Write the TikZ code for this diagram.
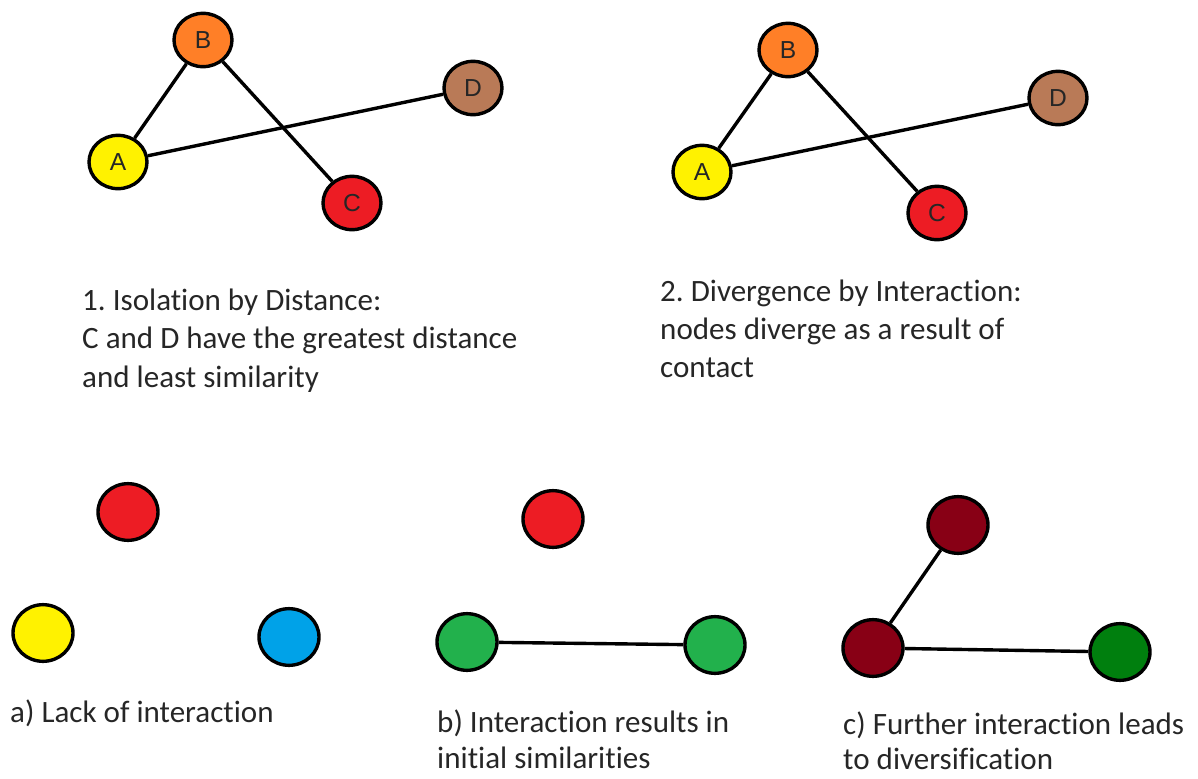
\documentclass[tikz,border=0pt]{standalone}
\usepackage{fontspec}
\setmainfont{Carlito}[Ligatures={NoCommon,NoRare,NoDiscretionary}]
\newfontfamily\nodefont{Liberation Sans}
\usetikzlibrary{shapes.geometric}
\frenchspacing
\definecolor{cyel}{HTML}{FFF200}
\definecolor{corange}{HTML}{FF7F27}
\definecolor{cbrown}{HTML}{B97A57}
\definecolor{cred}{HTML}{ED1C24}
\definecolor{cblue}{HTML}{00A2E8}
\definecolor{cgreen}{HTML}{22B14C}
\definecolor{cdred}{HTML}{880015}
\definecolor{cdgreen}{HTML}{007F0E}
\definecolor{ctext}{HTML}{262626}
\begin{document}
\begin{tikzpicture}[x=0.03cm,y=-0.03cm,
  gnode/.style={ellipse,draw=black,line width=2.9pt,minimum width=1.74cm,minimum height=1.6cm,inner sep=0pt,
    font=\nodefont\fontsize{21}{24}\selectfont,text=ctext},
  bnode/.style={ellipse,draw=black,line width=2.9pt,minimum width=1.8cm,minimum height=1.7cm,inner sep=0pt},
  linkline/.style={draw=black,line width=2.9pt},
  captxt/.style={anchor=base west,inner sep=0pt,text=ctext,font=\fontsize{26.5}{32}\selectfont}]
\useasboundingbox (0,0) rectangle (1198,778);
% panel 1
\node[gnode,fill=cyel] (a1) at (118,162) {A};
\node[gnode,fill=corange] (b1) at (203,40) {B};
\node[gnode,fill=cred] (c1) at (352,203) {C};
\node[gnode,fill=cbrown] (d1) at (473,88) {D};
\draw[linkline] (a1) -- (b1);
\draw[linkline] (a1) -- (d1);
\draw[linkline] (b1) -- (c1);
% panel 2
\node[gnode,fill=cyel] (a2) at (702,172) {A};
\node[gnode,fill=corange] (b2) at (788,50) {B};
\node[gnode,fill=cred] (c2) at (937,213) {C};
\node[gnode,fill=cbrown] (d2) at (1058,98) {D};
\draw[linkline] (a2) -- (b2);
\draw[linkline] (a2) -- (d2);
\draw[linkline] (b2) -- (c2);
% captions top
\node[captxt] (t11) at (82,310) {1. Isolation by Distance:};
\node[captxt] (t12) at (82,348) {C and D have the greatest distance};
\node[captxt] (t13) at (82,387) {and least similarity};
\node[captxt] (t21) at (660,301) {2. Divergence by Interaction:};
\node[captxt] (t22) at (660,339) {nodes diverge as a result of};
\node[captxt] (t23) at (660,377) {contact};
% panel a
\node[bnode,fill=cred] (ar) at (128,512) {};
\node[bnode,fill=cyel] (ay) at (43,633) {};
\node[bnode,fill=cblue] (ab) at (289,637) {};
% panel b
\node[bnode,fill=cred] (br) at (553,519) {};
\node[bnode,fill=cgreen] (bg1) at (467,642) {};
\node[bnode,fill=cgreen] (bg2) at (715,645) {};
\draw[linkline] (bg1) -- (bg2);
% panel c
\node[bnode,fill=cdred] (cr1) at (958,525) {};
\node[bnode,fill=cdred] (cr2) at (873,648) {};
\node[bnode,fill=cdgreen] (cg) at (1120,652) {};
\draw[linkline] (cr2) -- (cr1);
\draw[linkline] (cr2) -- (cg);
% captions bottom
\node[captxt] (ta) at (10,722) {a) Lack of interaction};
\node[captxt] (tb1) at (437,732) {b) Interaction results in};
\node[captxt] (tb2) at (437,768) {initial similarities};
\node[captxt] (tc1) at (843,734) {c) Further interaction leads};
\node[captxt] (tc2) at (843,769) {to diversification};
\end{tikzpicture}
\end{document}
